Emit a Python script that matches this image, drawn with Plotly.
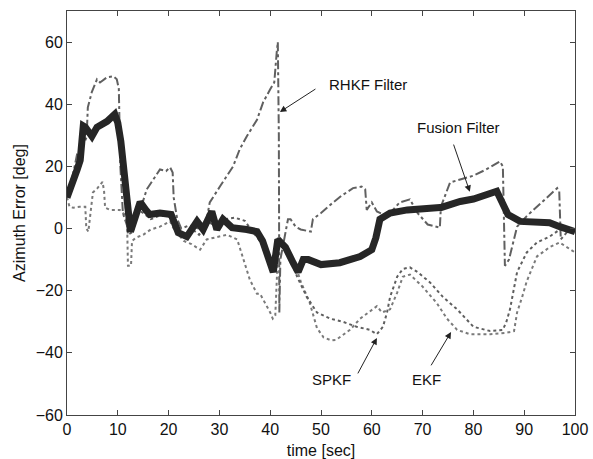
import plotly.graph_objects as go

# ---------------- data ----------------
fusion_t = [0, 1, 2, 2.6, 3.2, 3.6, 4.9, 5.9, 7.9, 9.4, 10.0, 10.6, 11.4, 12.0, 12.5, 13.5, 14.4,
            15.5, 16.3, 18.3, 20.5, 21.9, 23.6, 25.6, 26.8, 28.5, 29.5, 30.7, 32.5, 35.4, 37.4,
            38.5, 39.6, 40.6, 41.5, 43.0, 44.5, 45.5, 46.5, 47.5, 50.0, 53.7, 57.7, 60.0, 60.8,
            61.6, 63.6, 67.0, 73.4, 73.7, 77.4, 80.0, 84.6, 86.2, 86.8, 89.2, 95.0, 97.0, 98.5, 100]
fusion_v = [10, 14, 19, 22, 33, 32.6, 29.7, 32.6, 34.5, 36.8, 34, 28, 14.8, 2, -1, 4, 8.5,
            6, 4.5, 5, 4.5, -1.3, -2.6, 2.3, -0.3, 5.5, -0.3, 3, 0.3, -0.3, -1,
            -4, -10, -14, -3.5, -6, -11, -14, -10, -10, -11.6, -11, -9, -6.8, -3,
            3, 5, 6, 6.8, 6.8, 8.7, 9.5, 12, 7, 4.5, 2.3, 1.9, 0.6, -0.5, -1]

rhkf_t = [0, 1, 2, 3, 3.9, 4.1, 4.9, 5.9, 6.5, 7.9, 9.1, 9.8, 10.2, 10.5, 11, 11.8, 12.8, 13.8,
          15, 15.7, 17, 18.3, 19.5, 20.3, 20.8, 21, 21.7, 22.5, 24, 26, 27.5, 28.1, 30.1, 32.7,
          34, 35.4, 37.4, 38.6, 40, 40.8, 41.3, 41.5, 41.7, 41.8, 42, 42.8, 43.5, 44, 45, 46,
          48, 48.4, 50, 52.4, 54, 56.3, 58, 58.7, 59, 60, 61, 63, 65.5, 67.5, 69, 71, 73.4,
          73.6, 75.4, 77.4, 80, 82.5, 85.2, 85.8, 86.2, 87, 88.6, 90.5, 92.5, 94.5, 96.5, 96.9,
          97.2, 98.5, 100]
rhkf_v = [10, 16, 24, 27, 31, 39, 44, 48, 47, 48.7, 49, 48, 45, 20, 5, 1, 0, 4,
          9, 12.6, 16, 19, 18.5, 19.7, 18, 10, 3, 0, 1, 0, 3, 8.4, 13.5, 20,
          25.5, 29.7, 35, 40.6, 44.8, 47, 57, 60, 30, -27, -10, -3, 3, 3, 0.6, -0.3,
          -1, 3, 5, 8.4, 10.5, 13, 13.5, 12.6, 6, 8.4, 5.5, 4, 8.4, 9.4, 5, 1.3, 0.3,
          7, 14.8, 15.8, 17, 19, 21.6, 20, -12, -10, 0.6, 4, 7, 10, 13, 12,
          -3.5, -1, -1]

spkf_t = [0, 1, 2, 3, 4, 5, 6, 8, 9.5, 10.5, 11.5, 12, 13, 14, 15, 16.5, 18, 20, 21.5, 23,
          24.5, 26, 28, 29, 31, 33, 35, 36.5, 38, 40, 41, 41.5, 42.5, 44, 45.3, 47.2, 49.2,
          51.8, 54.3, 57, 59.6, 61, 62.2, 63, 63.6, 65, 66.1, 67.5, 69, 71.5, 74, 76.8, 80,
          83.3, 85.8, 86.5, 87.2, 88.6, 90.5, 92.5, 95, 97, 98.5, 100]
spkf_v = [10, 14, 20, 26, 30, 31, 33, 34, 35, 30, 8, -2, -1, 6, 5, 3, 4, 4, 1, -3,
          0, -2, 2, 1, 3, 3.5, 2.5, -1, -4, -10, -12, -3, -5, -10, -15.5, -22, -27,
          -29, -30, -31.6, -32.6, -34, -31.6, -27, -22, -15.5, -13, -12.5, -14, -17.4, -22, -26, -31.6,
          -33, -32.6, -30, -26, -14, -7.7, -4.5, -2.6, -0.3, -1, -1.3]

ekf_t = [0, 0.5, 1.2, 2.5, 3.6, 3.8, 4.2, 4.5, 5.1, 6, 7, 7.3, 7.5, 8.5, 10.4, 11, 11.8, 12,
         12.6, 12.8, 13.5, 15, 16.5, 18.3, 20.3, 21, 23, 24.5, 26.2, 27.5, 29, 31.5, 33.5,
         34.6, 36, 37.4, 38, 40, 40.5, 41, 41.3, 41.6, 42.5, 44, 45, 46, 47.8, 49.2, 50.5,
         52, 53, 55.7, 57.7, 59.6, 61, 62, 63.6, 65, 66.1, 67.5, 70, 72.8, 74.8, 76.8, 79.3,
         83.3, 86.6, 88, 88.6, 89.6, 90.5, 92.5, 95, 97, 98.5, 100]
ekf_v = [10, 7, 6.7, 7, 7, 0, -1, 3, 11.6, 13, 15, 12, 6.7, 6, 6, 5, 4, -12,
         -12, -4, -3, -2, -0.3, 0.6, 2.3, 0, -4, -5, -6.8, -3.5, -3, -2, -3.5,
         -9, -16.5, -21, -21, -27, -29, -28, -14, -5, -4, -8, -12, -17, -24, -32, -35,
         -36, -35.8, -32.6, -29, -26.8, -25, -27, -26, -20.6, -15.5, -14.8, -18.7, -24, -29, -32.6, -34,
         -34, -33.5, -33, -27, -22, -17, -9, -6, -4.5, -6, -7.7]

x_ticks = [0, 10, 20, 30, 40, 50, 60, 70, 80, 90, 100]
y_ticks = [-60, -40, -20, 0, 20, 40, 60]

# ---------------- figure ----------------
fig = go.Figure()

fig.add_trace(go.Scatter(x=ekf_t, y=ekf_v, mode="lines", name="EKF",
                         line=dict(color="#7a7a7a", width=2, dash="dot")))
fig.add_trace(go.Scatter(x=spkf_t, y=spkf_v, mode="lines", name="SPKF",
                         line=dict(color="#5e5e5e", width=2, dash="dot")))
fig.add_trace(go.Scatter(x=rhkf_t, y=rhkf_v, mode="lines", name="RHKF Filter",
                         line=dict(color="#606060", width=2, dash="dashdot")))
fig.add_trace(go.Scatter(x=fusion_t, y=fusion_v, mode="lines", name="Fusion Filter",
                         line=dict(color="#262626", width=7)))

font = "Liberation Sans, Arial, sans-serif"

def label(text, x, y):
    fig.add_annotation(x=x, y=y, text=text, showarrow=False, xanchor="left",
                       yanchor="middle", font=dict(family=font, size=15, color="#111"))

def arrow(x_tail, y_tail, x_tip, y_tip):
    fig.add_annotation(x=x_tip, y=y_tip, ax=x_tail, ay=y_tail, axref="x", ayref="y",
                       text="", showarrow=True, arrowhead=2, arrowsize=1.3,
                       arrowwidth=1, arrowcolor="#222")

label("RHKF Filter", 51.2, 46.2)
arrow(49.2, 45.2, 41.9, 37.5)
label("Fusion Filter", 68.5, 32.4)
arrow(76.0, 27.5, 79.3, 11.8)
label("SPKF", 47.8, -48.7)
arrow(57.1, -47.1, 61.0, -35.2)
label("EKF", 67.5, -48.7)
arrow(71.5, -44.5, 75.6, -33.3)

axis_common = dict(showgrid=False, zeroline=False, showline=True, linecolor="#444",
                   linewidth=1, mirror="ticks", ticks="inside", ticklen=5,
                   tickcolor="#444", tickfont=dict(family=font, size=16, color="#111"),
                   automargin=False)

fig.update_xaxes(range=[0, 100], tickvals=x_ticks,
                 title=dict(text="time [sec]", font=dict(family=font, size=16, color="#111"),
                            standoff=8),
                 **axis_common)
fig.update_yaxes(range=[-60, 70], tickvals=y_ticks,
                 title=dict(text="Azimuth Error [deg]", font=dict(family=font, size=16, color="#111"),
                            standoff=6),
                 **axis_common)

fig.update_layout(width=593, height=459, margin=dict(l=67, r=18, t=11, b=44),
                  paper_bgcolor="white", plot_bgcolor="white", showlegend=False)

fig.write_html("out.html")
